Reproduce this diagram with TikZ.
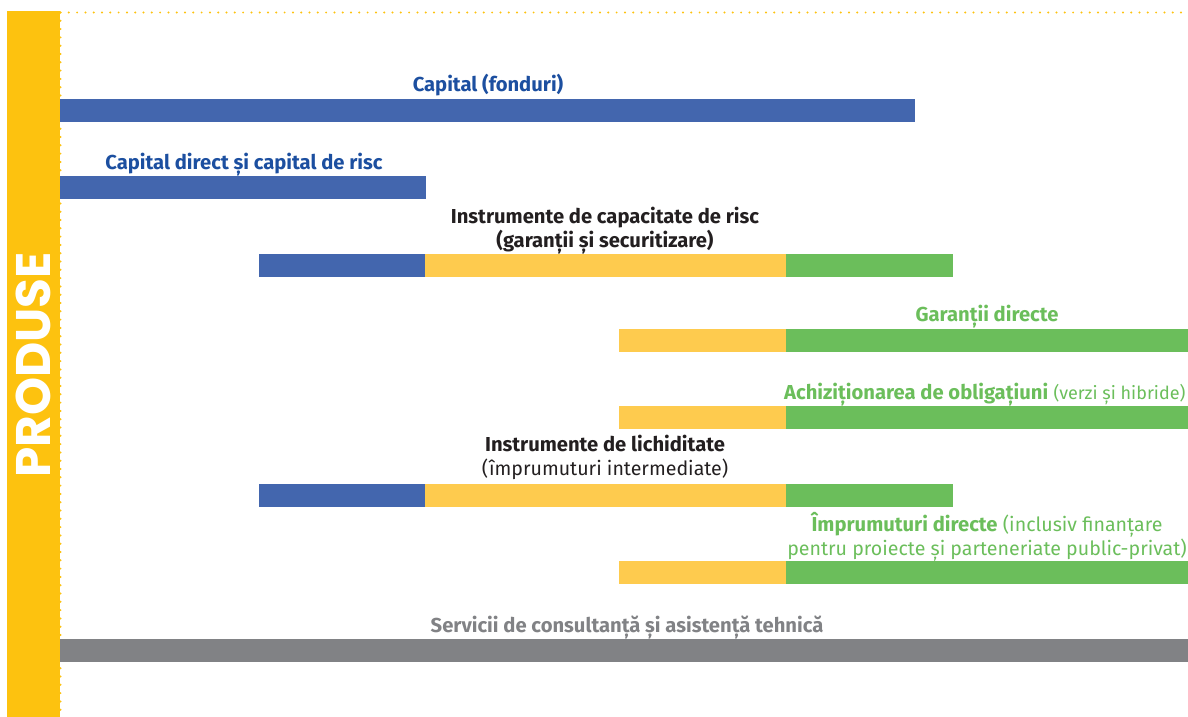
\documentclass[tikz,border=0pt]{standalone}
\usepackage{fontspec}
\setmainfont{Fira Sans}
\newfontfamily\prodfont{Poppins}
\newcommand\regtxt{\fontsize{19.6}{23.5}\selectfont\mdseries}
\newcommand\regtxtsm{\fontsize{18}{23.5}\selectfont\mdseries}
\definecolor{sideyellow}{HTML}{FDC20F}
\definecolor{baryellow}{HTML}{FECB4E}
\definecolor{barblue}{HTML}{4366AE}
\definecolor{bargreen}{HTML}{6BBE5B}
\definecolor{bargrey}{HTML}{818285}
\definecolor{txtblue}{HTML}{1C4FA0}
\definecolor{txtdark}{HTML}{231F20}
\tikzset{
  dotline/.style={draw=sideyellow, line width=2.2pt, line cap=round, dash pattern=on 0pt off 8.3pt},
  lbl/.style={inner sep=0pt, anchor=base, align=center, font=\fontsize{20.2}{23.5}\selectfont},
}
\begin{document}
\begin{tikzpicture}[x=1pt,y=-1pt]
\useasboundingbox (0,0) rectangle (1188,717);
\draw[dotline] (60.5,12.5) -- (1188,12.5);
\draw[dotline] (60.5,12.5) -- (60.5,717);
\fill[sideyellow] (7,11) rectangle (60,717);
\node[inner sep=0pt, rotate=90, text=white, font=\prodfont\bfseries\fontsize{48.5}{48.5}\selectfont] (produse) at (33.5,365) {PRODUSE};
% bar 1
\fill[barblue] (60,99) rectangle (915,122);
\node[lbl, text=txtblue] (l1) at (488,92) {\bfseries Capital (fonduri)};
% bar 2
\fill[barblue] (60,176) rectangle (426,199);
\node[lbl, text=txtblue] (l2) at (244,169) {\bfseries Capital direct și capital de risc};
% bar 3
\fill[barblue] (259,254) rectangle (425.5,277);
\fill[baryellow] (425,254) rectangle (786.5,277);
\fill[bargreen] (786,254) rectangle (953,277);
\node[lbl, text=txtdark, font=\bfseries\fontsize{20.2}{23.5}\selectfont] (l3) at (605,247) {Instrumente de capacitate de risc\\(garanții și securitizare)};
% bar 4
\fill[baryellow] (619,329) rectangle (786.5,352);
\fill[bargreen] (786,329) rectangle (1188,352);
\node[lbl, text=bargreen] (l4) at (987,321) {\bfseries Garanții directe};
% bar 5
\fill[baryellow] (619,406) rectangle (786.5,429);
\fill[bargreen] (786,406) rectangle (1188,429);
\node[lbl, anchor=base west, text=bargreen] (l5) at (784,399) {\textbf{Achiziționarea de obligațiuni} {\regtxtsm(verzi și hibride)}};
% bar 6
\fill[barblue] (259,484) rectangle (425.5,507);
\fill[baryellow] (425,484) rectangle (786.5,507);
\fill[bargreen] (786,484) rectangle (953,507);
\node[lbl, text=txtdark] (l6) at (605,475) {\textbf{Instrumente de lichiditate}\\{\regtxt(împrumuturi intermediate)}};
% bar 7
\fill[baryellow] (619,561) rectangle (786.5,584);
\fill[bargreen] (786,561) rectangle (1188,584);
\node[lbl, text=bargreen] (l7) at (987,555) {\textbf{Împrumuturi directe} {\regtxt(inclusiv finanțare}\\{\regtxt pentru proiecte și parteneriate public-privat)}};
% bar 8
\fill[bargrey] (60,639) rectangle (1188,662);
\node[lbl, text=bargrey] (l8) at (627,632) {\bfseries Servicii de consultanță și asistență tehnică};
\end{tikzpicture}
\end{document}
